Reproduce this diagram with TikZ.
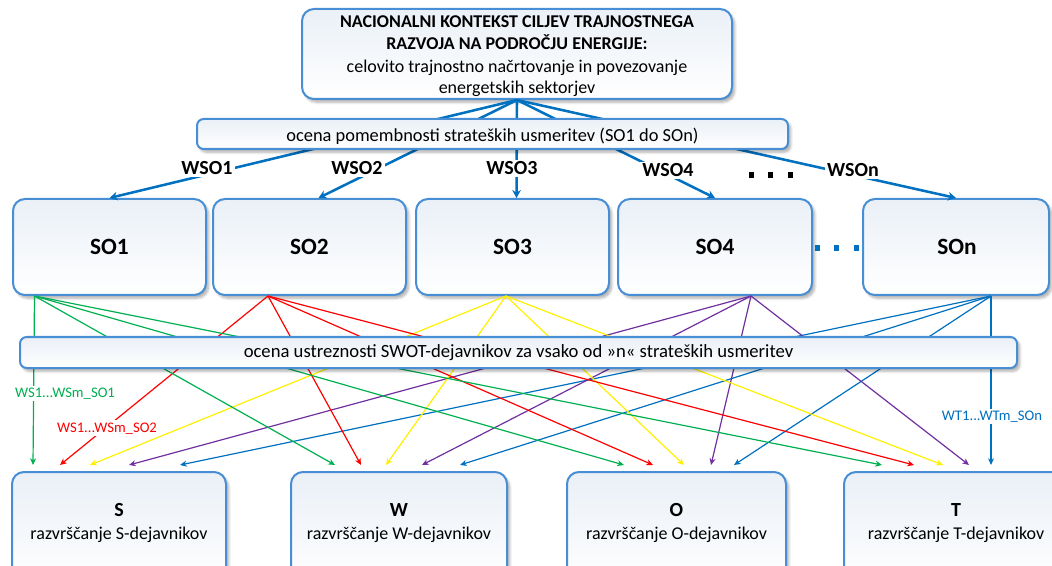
\documentclass[tikz,border=0pt]{standalone}
\usepackage{fontspec}
\setmainfont{Carlito}
\usetikzlibrary{arrows.meta,fit,calc,shadows.blur}

\definecolor{boxline}{RGB}{72,142,212}
\definecolor{boxfill}{RGB}{234,240,247}
\definecolor{wblue}{RGB}{0,112,192}
\definecolor{sgreen}{RGB}{0,176,80}
\definecolor{sred}{RGB}{255,0,0}
\definecolor{syellow}{RGB}{255,240,0}
\definecolor{spurple}{RGB}{112,48,160}

\begin{document}
\begin{tikzpicture}[x=0.75pt,y=-0.75pt,
  panel/.style={draw=boxline, line width=1.5pt, rounded corners=9pt,
    top color=boxfill, bottom color=white, inner sep=0pt,
    blur shadow={shadow xshift=2pt, shadow yshift=-2.4pt, shadow blur steps=6, shadow opacity=32}},
  band/.style={panel, rounded corners=5pt},
  txt/.style={anchor=base, inner sep=0pt},
  wlabel/.style={anchor=base, fill=white, inner sep=1.5pt, font=\fontsize{15}{18}\selectfont\bfseries},
  wconn/.style={draw=wblue, line width=1.9pt, -{Stealth[length=6pt,width=6.5pt,inset=2pt]}},
  sconn/.style={line width=0.9pt, -{Stealth[length=5pt,width=4.5pt,inset=1.5pt]}},
  slabel/.style={anchor=base, fill=white, inner sep=1.5pt, font=\fontsize{11}{13}\selectfont},
  sotxt/.style={txt, font=\fontsize{17.5}{20}\selectfont\bfseries},
  lettxt/.style={txt, font=\fontsize{15}{18}\selectfont\bfseries},
  subtxt/.style={txt, font=\fontsize{13.5}{16}\selectfont}
]
\useasboundingbox (0,0) rectangle (1052,566);
\clip (0,0) rectangle (1052,566);

% national context box
\node[panel, fit={(302,9)(732,99)}] (top) {};
\begin{scope}[every node/.append style={txt, font=\fontsize{13.5}{16}\selectfont}]
\node (top1) at (517,27.3) {\bfseries NACIONALNI KONTEKST CILJEV TRAJNOSTNEGA};
\node (top2) at (517,50) {\bfseries RAZVOJA NA PODROČJU ENERGIJE:};
\node (top3) at (517,72.8) {celovito trajnostno načrtovanje in povezovanje};
\node (top4) at (517,93.3) {energetskih sektorjev};
\end{scope}

% strategic orientations
\node[panel, fit={(13,199)(206,295)}] (so1) {};
\node[panel, fit={(213,199)(406,295)}] (so2) {};
\node[panel, fit={(416,199)(609,295)}] (so3) {};
\node[panel, fit={(618,199)(812,295)}] (so4) {};
\node[panel, fit={(863,199)(1049,295)}] (son) {};
\node[sotxt] (so1t) at (so1.center |- 0,255) {SO1};
\node[sotxt] (so2t) at (so2.center |- 0,255) {SO2};
\node[sotxt] (so3t) at (so3.center |- 0,255) {SO3};
\node[sotxt] (so4t) at (so4.center |- 0,255) {SO4};
\node[sotxt] (sont) at (957,255) {SOn};

% SWOT ranking boxes
\node[panel, fit={(12,472)(226,590)}] (bs) {};
\node[panel, fit={(291,472)(507,590)}] (bw) {};
\node[panel, fit={(567,472)(786,590)}] (bo) {};
\node[panel, fit={(844,472)(1066,590)}] (bt) {};
\node[lettxt] (bsl) at (119,516) {S};
\node[lettxt] (bwl) at (399,516) {W};
\node[lettxt] (bol) at (676.5,516) {O};
\node[lettxt] (btl) at (956,516) {T};
\node[subtxt] (bss) at (119,539.5) {razvrščanje S-dejavnikov};
\node[subtxt] (bws) at (399,539.5) {razvrščanje W-dejavnikov};
\node[subtxt] (bos) at (676.5,539.5) {razvrščanje O-dejavnikov};
\node[subtxt] (bts) at (956,539.5) {razvrščanje T-dejavnikov};

% weights of the strategic orientations
\draw[wconn] (top.south) -- (so1.north);
\draw[wconn] (top.south) -- ($(so2.north)+(9,0)$);
\draw[wconn] (top.south) -- ($(so3.north)+(4,0)$);
\draw[wconn] (top.south) -- (so4.north);
\draw[wconn] (top.south) -- (son.north);

\node[band, fit={(197,119)(788,149)}] (b1) {};
\node[txt, font=\fontsize{13.8}{16}\selectfont] (b1t) at (b1.center |- 0,142)
  {ocena pomembnosti strateških usmeritev (SO1 do SOn)};

\node[wlabel] (w1) at (207,175) {WSO1};
\node[wlabel] (w2) at (357,175) {WSO2};
\node[wlabel] (w3) at (512,175) {WSO3};
\node[wlabel] (w4) at (668,177) {WSO4};
\node[wlabel] (wn) at (853,177) {WSOn};

% ellipses
\foreach \x in {751.5,770.5,790.5} \fill (\x-2.6,172.5) rectangle (\x+2.6,178);
\foreach \x in {817.5,836.5,856.5} \fill[wblue] (\x-2.6,245.5) rectangle (\x+2.6,251);

% start points on the strategic orientations
\coordinate (p1) at ($(so1.south west)+(22.5,0)$);
\coordinate (p2) at ($(so2.south west)+(56,0)$);
\coordinate (p3) at ($(so3.south west)+(91,0)$);
\coordinate (p4) at ($(so4.south west)+(134,0)$);
\coordinate (pn) at ($(son.south west)+(129,0)$);

% end points above the SWOT boxes
\foreach \n/\g/\r/\y/\p/\b in {bs/22/49/79/118/169, bw/45/71/96/132/170, bo/58/87/118/145/168, bt/39/71/100/126/148}{
  \coordinate (\n-g) at ($(\n.north west)+(\g,-6)$);
  \coordinate (\n-r) at ($(\n.north west)+(\r,-6)$);
  \coordinate (\n-y) at ($(\n.north west)+(\y,-6)$);
  \coordinate (\n-p) at ($(\n.north west)+(\p,-6)$);
  \coordinate (\n-b) at ($(\n.north west)+(\b,-6)$);
}

% relevance of the SWOT factors for each orientation
\foreach \n in {bs,bw,bo,bt}{
  \draw[sconn, sgreen]  (p1) -- (\n-g);
  \draw[sconn, sred]    (p2) -- (\n-r);
  \draw[sconn, syellow] (p3) -- (\n-y);
  \draw[sconn, spurple] (p4) -- (\n-p);
  \draw[sconn, wblue]   (pn) -- (\n-b);
}

\node[band, fit={(20,337)(1017,368)}] (b2) {};
\node[txt, font=\fontsize{14}{16}\selectfont] (b2t) at (b2.center |- 0,358)
  {ocena ustreznosti SWOT-dejavnikov za vsako od »n« strateških usmeritev};

\node[slabel, text=sgreen] (l1) at (65,397.5) {WS1...WSm\_SO1};
\node[slabel, text=sred] (l2) at (107,432) {WS1...WSm\_SO2};
\node[slabel, text=wblue] (ln) at (992,420.5) {WT1...WTm\_SOn};
\end{tikzpicture}
\end{document}
